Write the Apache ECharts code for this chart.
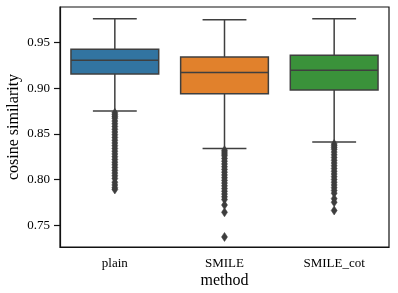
<!DOCTYPE html>
<html>
<head>
<meta charset="utf-8">
<script src="https://cdn.jsdelivr.net/npm/echarts@6/dist/echarts.min.js"></script>
<style>html,body{margin:0;padding:0;background:#fff}#c{width:398px;height:293px}</style>
</head>
<body>
<div id="c"></div>
<script>
const categories = ['plain', 'SMILE', 'SMILE_cot'];
const boxColors = ['#3274A1', '#E1812C', '#3A923A'];
const whiskerLow = [0.875, 0.834, 0.841];
const q1 = [0.9157, 0.894, 0.898];
const median = [0.9307, 0.9171, 0.9197];
const q3 = [0.9428, 0.9343, 0.9362];
const whiskerHigh = [0.976, 0.975, 0.976];
const outliersPlain = [0.873, 0.871, 0.869, 0.867, 0.864, 0.861, 0.858, 0.855, 0.852, 0.849, 0.846, 0.843, 0.840, 0.837, 0.834, 0.831, 0.828, 0.825, 0.822, 0.819, 0.816, 0.813, 0.810, 0.807, 0.804, 0.801, 0.797, 0.794, 0.791, 0.789];
const outliersSmile = [0.832, 0.830, 0.828, 0.826, 0.823, 0.820, 0.817, 0.814, 0.811, 0.808, 0.805, 0.802, 0.799, 0.796, 0.793, 0.790, 0.787, 0.784, 0.781, 0.778, 0.772, 0.764, 0.737];
const outliersCot = [0.839, 0.837, 0.835, 0.833, 0.830, 0.827, 0.824, 0.821, 0.818, 0.815, 0.812, 0.809, 0.806, 0.803, 0.800, 0.797, 0.794, 0.791, 0.788, 0.785, 0.779, 0.775, 0.766];
const yTicks = [0.75, 0.80, 0.85, 0.90, 0.95];

const boxData = categories.map((c, i) => [i, whiskerLow[i], q1[i], median[i], q3[i], whiskerHigh[i]]);
const outlierData = [];
[outliersPlain, outliersSmile, outliersCot].forEach((arr, i) => arr.forEach(v => outlierData.push([i, v])));

const font = 'Liberation Serif';
const edge = '#3f3f3f';
const chart = echarts.init(document.getElementById('c'));
chart.setOption({
  animation: false,
  grid: { left: 60, top: 7, right: 9, bottom: 46, show: true, borderColor: '#111', borderWidth: 1.2, containLabel: false, outerBoundsMode: 'none' },
  xAxis: {
    type: 'category', data: categories, boundaryGap: true,
    name: 'method', nameLocation: 'middle', nameGap: 26, nameMoveOverlap: false,
    nameTextStyle: { fontFamily: font, fontSize: 16, color: '#000' },
    axisLine: { lineStyle: { color: '#111', width: 1.2 } },
    axisTick: { alignWithLabel: true, length: 6, lineStyle: { color: '#111', width: 1.2 } },
    axisLabel: { fontFamily: font, fontSize: 13, color: '#000', margin: 10 },
    splitLine: { show: false }
  },
  yAxis: {
    type: 'value', min: 0.726, max: 0.989,
    name: 'cosine similarity', nameLocation: 'middle', nameGap: 38, nameMoveOverlap: false,
    nameTextStyle: { fontFamily: font, fontSize: 16, color: '#000' },
    axisLine: { show: true, lineStyle: { color: '#111', width: 1.2 } },
    axisTick: { show: true, length: 6, customValues: yTicks, lineStyle: { color: '#111', width: 1.2 } },
    axisLabel: { fontFamily: font, fontSize: 13, color: '#000', margin: 10, customValues: yTicks, formatter: v => v.toFixed(2) },
    splitLine: { show: false }
  },
  series: [
    {
      type: 'custom',
      data: boxData,
      encode: { x: 0, y: [1, 2, 3, 4, 5] },
      z: 2,
      renderItem: function (params, api) {
        const i = api.value(0);
        const w = api.size([1, 0])[0] * 0.8;
        const cx = api.coord([i, api.value(3)])[0];
        const yLo = api.coord([i, api.value(1)])[1];
        const yQ1 = api.coord([i, api.value(2)])[1];
        const yMed = api.coord([i, api.value(3)])[1];
        const yQ3 = api.coord([i, api.value(4)])[1];
        const yHi = api.coord([i, api.value(5)])[1];
        const ls = { stroke: edge, lineWidth: 1.5 };
        return {
          type: 'group',
          children: [
            { type: 'line', shape: { x1: cx, y1: yQ3, x2: cx, y2: yHi }, style: ls },
            { type: 'line', shape: { x1: cx, y1: yQ1, x2: cx, y2: yLo }, style: ls },
            { type: 'line', shape: { x1: cx - w / 4, y1: yHi, x2: cx + w / 4, y2: yHi }, style: ls },
            { type: 'line', shape: { x1: cx - w / 4, y1: yLo, x2: cx + w / 4, y2: yLo }, style: ls },
            { type: 'rect', shape: { x: cx - w / 2, y: yQ3, width: w, height: yQ1 - yQ3 }, style: { fill: boxColors[i], stroke: edge, lineWidth: 1.5 } },
            { type: 'line', shape: { x1: cx - w / 2, y1: yMed, x2: cx + w / 2, y2: yMed }, style: ls }
          ]
        };
      }
    },
    {
      type: 'scatter',
      data: outlierData,
      symbol: 'diamond',
      symbolSize: [6, 9],
      itemStyle: { color: '#3d3d3d', opacity: 1, borderColor: '#3d3d3d', borderWidth: 0.5 },
      z: 3
    }
  ]
});
</script>
</body>
</html>
